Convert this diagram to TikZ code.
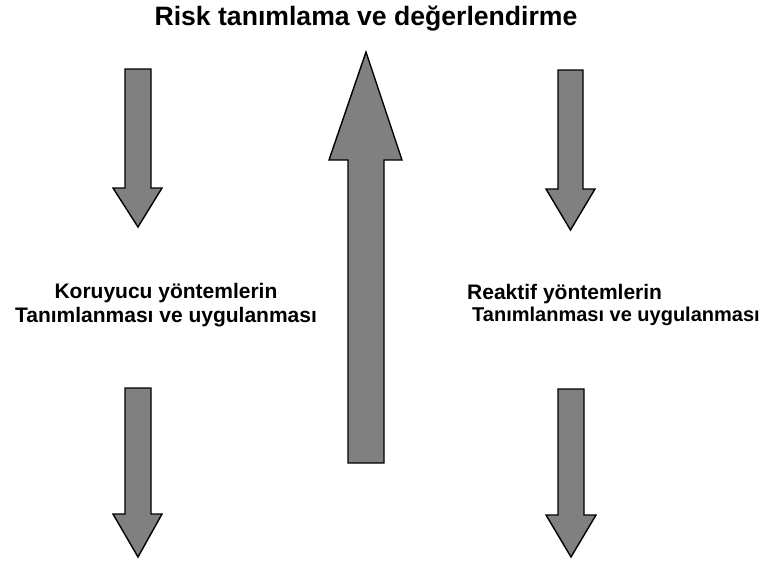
\documentclass[tikz,border=0pt]{standalone}
\usepackage{fontspec}
\setmainfont{Liberation Sans}
\begin{document}
\begin{tikzpicture}[x=1pt,y=-1pt,
  blockarrow/.style={draw=black,line width=1.4pt,fill=black!50,line join=miter},
  titletext/.style={font=\bfseries\fontsize{26.6}{32}\selectfont,inner sep=0pt},
  lefttext/.style={font=\bfseries\fontsize{21}{25}\selectfont,inner sep=0pt},
  righttextA/.style={font=\bfseries\fontsize{21}{25}\selectfont,inner sep=0pt},
  righttextB/.style={font=\bfseries\fontsize{20}{24}\selectfont,inner sep=0pt}]
\useasboundingbox[fill=white] (0,0) rectangle (761,562);
% title
\node[titletext,anchor=base] (title) at (366,25) {Risk tanımlama ve değerlendirme};
% left top arrow
\draw[blockarrow] (125,69) -- (151,69) -- (151,188) -- (162,188) -- (138,227) -- (113,188) -- (125,188) -- cycle;
% left bottom arrow
\draw[blockarrow] (125,388) -- (151,388) -- (151,514) -- (162,514) -- (138,557) -- (113,514) -- (125,514) -- cycle;
% centre up arrow
\draw[blockarrow] (348,463) -- (384,463) -- (384,160) -- (402,160) -- (366,52) -- (329,160) -- (348,160) -- cycle;
% right top arrow
\draw[blockarrow] (558,70) -- (583,70) -- (583,189) -- (595,189) -- (570.5,230) -- (546,189) -- (558,189) -- cycle;
% right bottom arrow
\draw[blockarrow] (558,389) -- (584,389) -- (584,515) -- (596,515) -- (571,557) -- (546,515) -- (558,515) -- cycle;
% left text
\node[lefttext,anchor=base] (leftA) at (166,298.5) {Koruyucu yöntemlerin};
\node[lefttext,anchor=base] (leftB) at (166,322) {Tanımlanması ve uygulanması};
% right text
\node[righttextA,anchor=base west] (rightA) at (467,299) {Reaktif yöntemlerin};
\node[righttextB,anchor=base west] (rightB) at (472,321) {Tanımlanması ve uygulanması};
\end{tikzpicture}
\end{document}
